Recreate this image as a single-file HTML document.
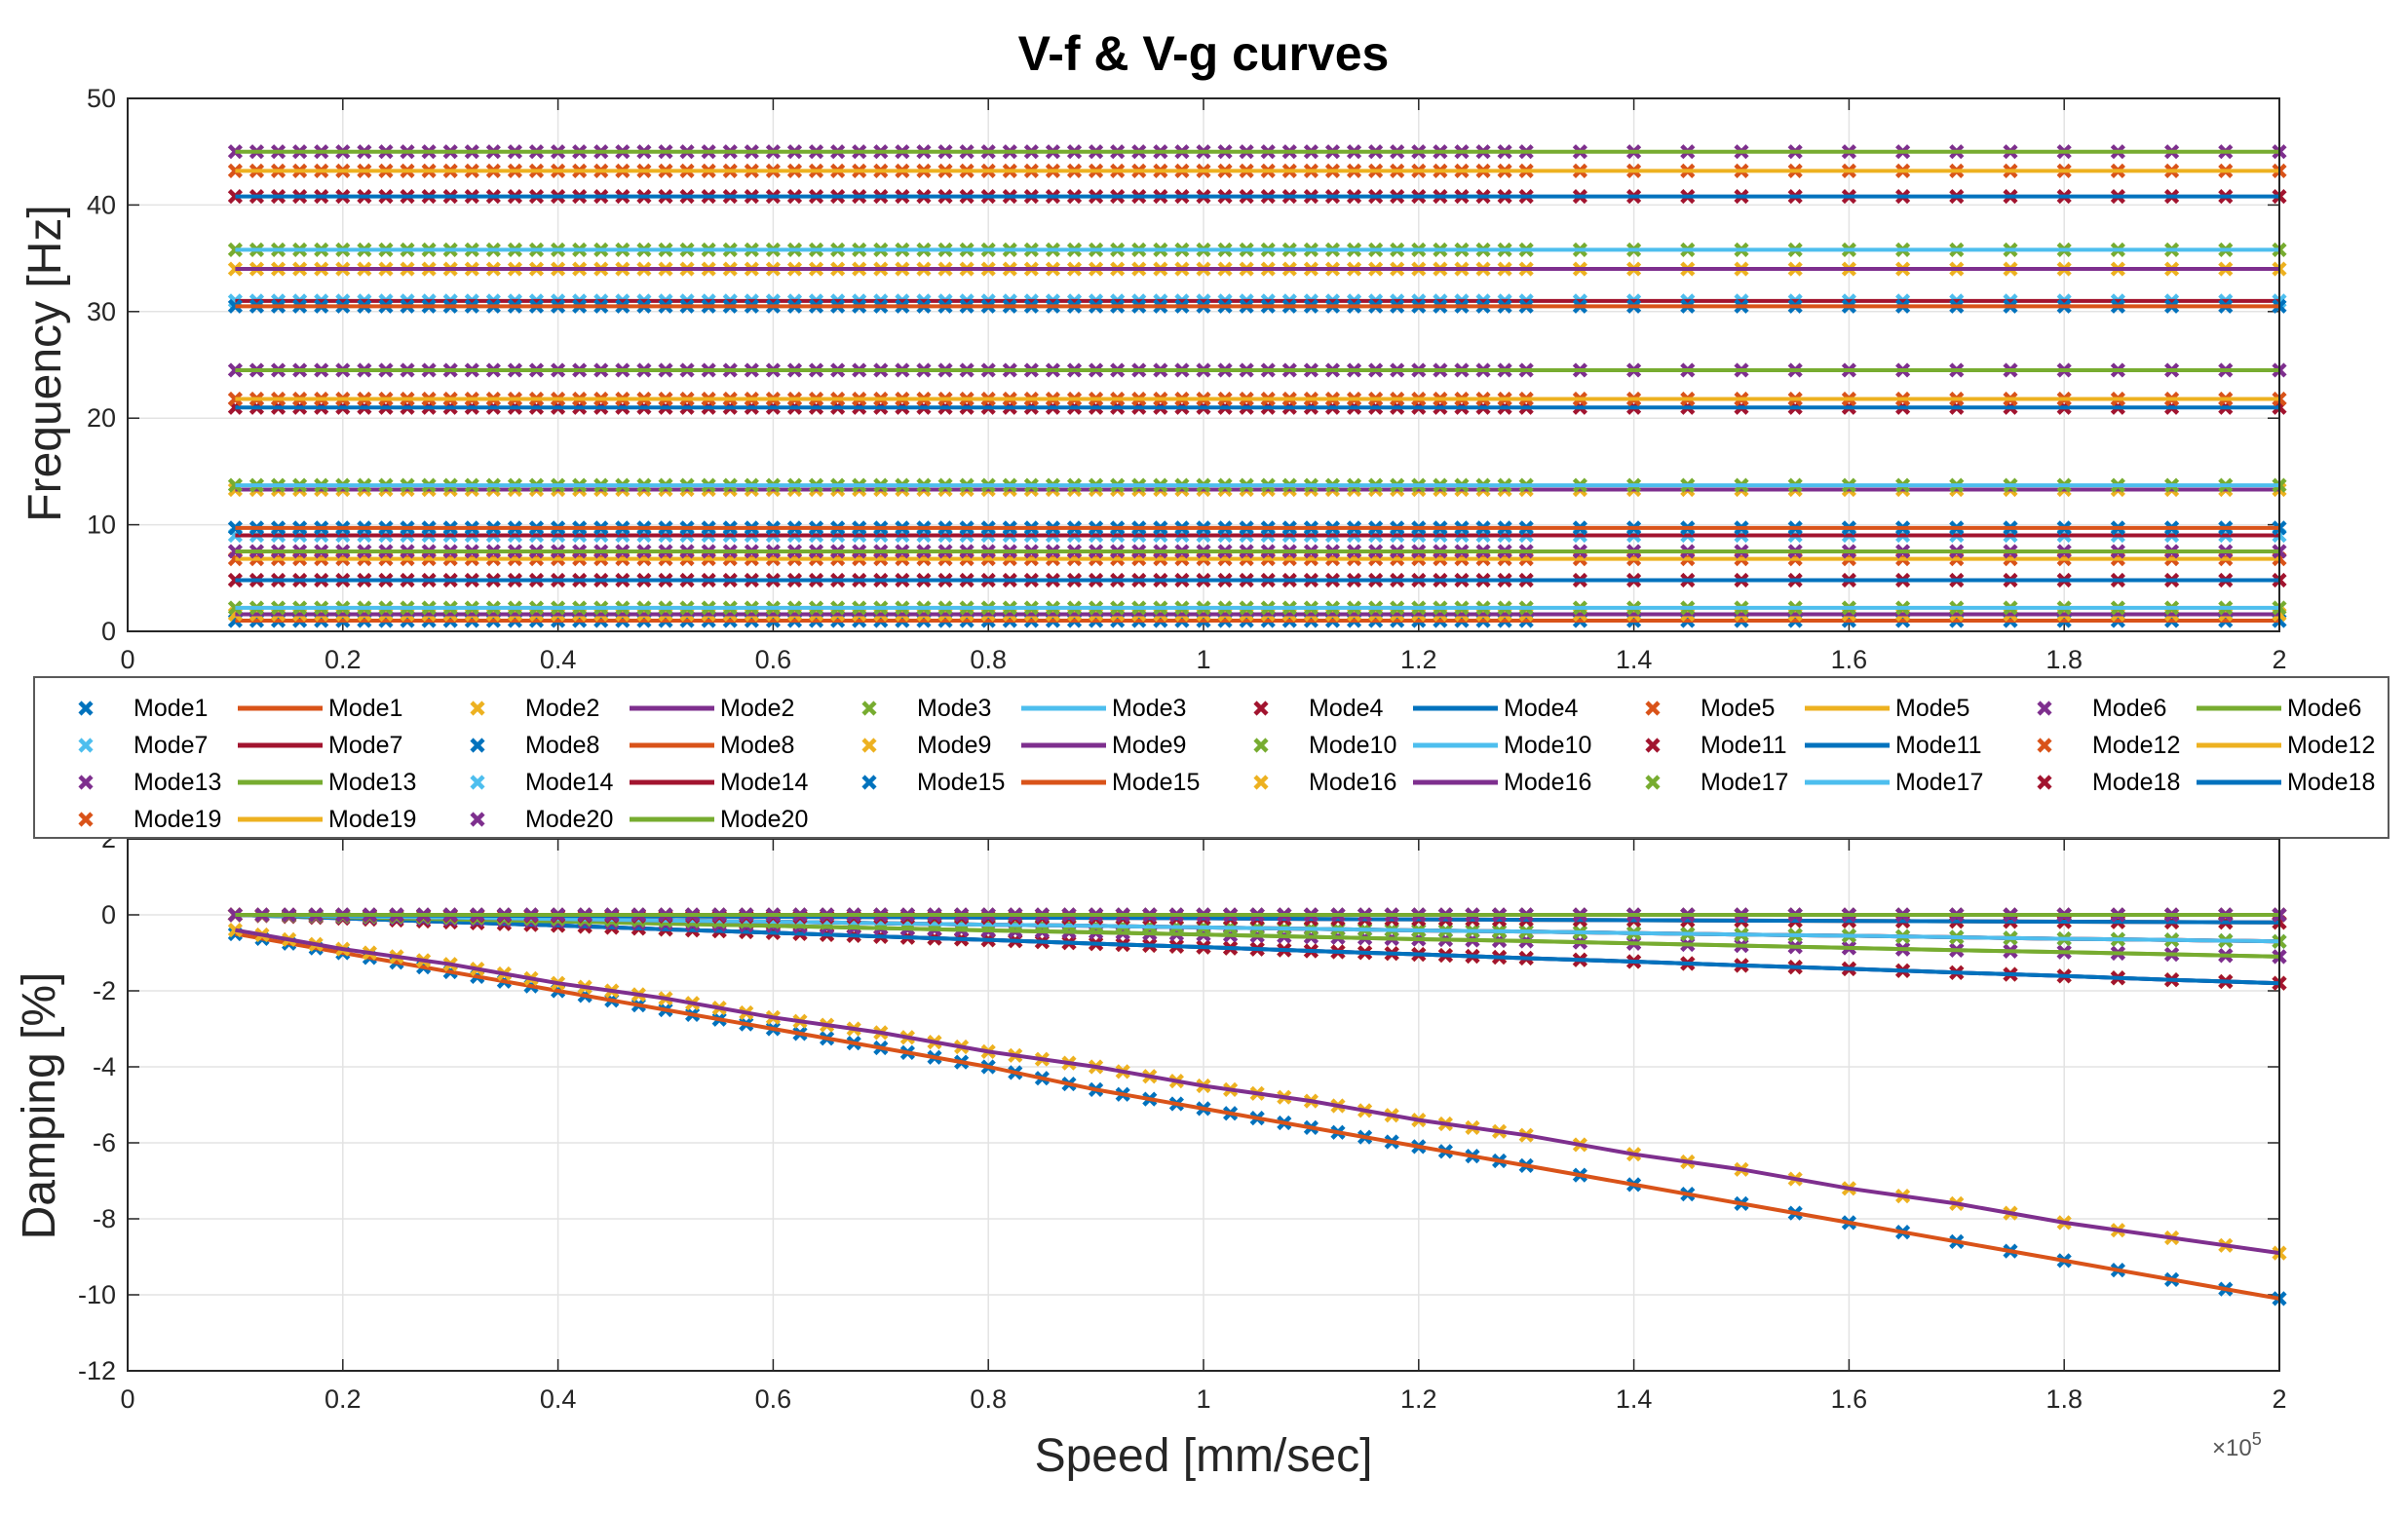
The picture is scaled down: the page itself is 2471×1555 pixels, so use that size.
<!DOCTYPE html>
<html><head><meta charset="utf-8"><style>
body{margin:0;background:#fff;}
svg{display:block;font-family:"Liberation Sans",sans-serif;}
</style></head><body>
<svg id="chart" width="2471" height="1555" viewBox="0 0 2471 1555">
<rect x="0" y="0" width="2471" height="1555" fill="#fff"/>
<text x="1235" y="72" text-anchor="middle" font-size="50" font-weight="bold" fill="#000">V-f &amp; V-g curves</text>
<g id="topG"></g>
<g id="botG"></g>
<g id="legend"></g>
<text x="1235" y="1510" text-anchor="middle" font-size="48" fill="#262626">Speed [mm/sec]</text>
<text x="2270" y="1494" font-size="24" fill="#555">×10<tspan dy="-11" font-size="18">5</tspan></text>
<text transform="translate(62,373) rotate(-90)" text-anchor="middle" font-size="48" fill="#262626">Frequency [Hz]</text>
<text transform="translate(56,1135) rotate(-90)" text-anchor="middle" font-size="48" fill="#262626">Damping [%]</text>
</svg>
<script>
const modes=["Mode1","Mode2","Mode3","Mode4","Mode5","Mode6","Mode7","Mode8","Mode9","Mode10","Mode11","Mode12","Mode13","Mode14","Mode15","Mode16","Mode17","Mode18","Mode19","Mode20"];
const freqValues=[1.0,1.6,2.2,4.8,6.8,7.5,9.0,9.7,13.3,13.7,21.0,21.8,24.5,31.0,30.5,34.0,35.8,40.8,43.2,45.0];
const dampSpeed=[0.1,0.2,0.3,0.4,0.5,0.6,0.7,0.8,0.9,1.0,1.1,1.2,1.3,1.4,1.5,1.6,1.7,1.8,1.9,2.0];
const dMode1=[-0.5,-1.0,-1.5,-2.0,-2.5,-3.0,-3.5,-4.0,-4.6,-5.1,-5.6,-6.1,-6.6,-7.1,-7.6,-8.1,-8.6,-9.1,-9.6,-10.1];
const dMode2=[-0.4,-0.9,-1.3,-1.8,-2.2,-2.7,-3.1,-3.6,-4.0,-4.5,-4.9,-5.4,-5.8,-6.3,-6.7,-7.2,-7.6,-8.1,-8.5,-8.9];
const dLarge=[0,-0.09,-0.19,-0.28,-0.38,-0.47,-0.57,-0.66,-0.76,-0.85,-0.95,-1.04,-1.14,-1.23,-1.33,-1.42,-1.52,-1.61,-1.71,-1.8];
const dMid=[0,-0.06,-0.12,-0.17,-0.23,-0.29,-0.35,-0.41,-0.46,-0.52,-0.58,-0.64,-0.69,-0.75,-0.81,-0.87,-0.93,-0.98,-1.04,-1.1];
const dSmall=[0,-0.04,-0.07,-0.11,-0.15,-0.18,-0.22,-0.26,-0.29,-0.33,-0.37,-0.41,-0.44,-0.48,-0.52,-0.55,-0.59,-0.63,-0.66,-0.7];
const dTiny=[0,-0.01,-0.02,-0.03,-0.04,-0.05,-0.06,-0.07,-0.08,-0.09,-0.11,-0.12,-0.13,-0.14,-0.15,-0.16,-0.17,-0.18,-0.19,-0.2];
const dZero=[0,0,0,0,0,0,0,0,0,0,0,0,0,0,0,0,0,0,0,0];
const dampValues=[dMode1,dMode2,dZero,dLarge,dTiny,dMid,dSmall,dZero,dLarge,dSmall,dLarge,dZero,dMid,dSmall,dZero,dTiny,dSmall,dTiny,dZero,dZero];
const xTicks=[0,0.2,0.4,0.6,0.8,1,1.2,1.4,1.6,1.8,2];
const fTicks=[0,10,20,30,40,50];
const dTicks=[-12,-10,-8,-6,-4,-2,0,2];
const markerColors=["#0072BD","#EDB120","#77AC30","#A2142F","#D95319","#7E2F8E","#4DBEEE"];
const lineColors=["#D95319","#7E2F8E","#4DBEEE","#0072BD","#EDB120","#77AC30","#A2142F"];
const speedGrid=[];
for(let i=0;i<=60;i++)speedGrid.push(+(0.1+i*0.02).toFixed(2));
for(let i=1;i<=14;i++)speedGrid.push(+(1.3+i*0.05).toFixed(2));

const NS="http://www.w3.org/2000/svg";
const X0=131,X1=2339;
const sx=v=>X0+(v/2)*(X1-X0);
const fy=v=>648-(v/50)*(648-101);
const dy=v=>939-(v/12)*(1407-939);
function mk(tag,attrs,parent){const e=document.createElementNS(NS,tag);for(const k in attrs)e.setAttribute(k,attrs[k]);parent.appendChild(e);return e;}
function cross(g,x,y,c){
  const p=mk('path',{d:`M${x-6},${y-6}L${x+6},${y+6}M${x-6},${y+6}L${x+6},${y-6}`,stroke:c,'stroke-width':4.5,fill:'none'},g);
  
  
}
function axes(g,yTop,yBot,ticks,yf,nameP){
  mk('rect',{x:X0,y:yTop,width:X1-X0,height:yBot-yTop,fill:'#fff'},g);
  xTicks.forEach(t=>{
    const l=mk('line',{x1:sx(t),x2:sx(t),y1:yTop,y2:yBot,stroke:'#e3e3e3','stroke-width':1.5},g);
    
    
    mk('line',{x1:sx(t),x2:sx(t),y1:yBot,y2:yBot-12,stroke:'#262626','stroke-width':1.5},g);
    mk('line',{x1:sx(t),x2:sx(t),y1:yTop,y2:yTop+12,stroke:'#262626','stroke-width':1.5},g);
    const tx=mk('text',{x:sx(t),y:yBot+38,'text-anchor':'middle','font-size':27,fill:'#262626'},g);
    tx.textContent=String(t);
    
    
  });
  ticks.forEach(t=>{
    const y=yf(t);
    const l=mk('line',{x1:X0,x2:X1,y1:y,y2:y,stroke:'#e3e3e3','stroke-width':1.5},g);
    
    
    mk('line',{x1:X0,x2:X0+12,y1:y,y2:y,stroke:'#262626','stroke-width':1.5},g);
    mk('line',{x1:X1,x2:X1-12,y1:y,y2:y,stroke:'#262626','stroke-width':1.5},g);
    const tx=mk('text',{x:X0-12,y:y+9,'text-anchor':'end','font-size':27,fill:'#262626'},g);
    tx.textContent=String(t);
    
    
  });
}
const topG=document.getElementById('topG');
axes(topG,101,648,fTicks,fy,'frequency');
modes.forEach((m,i)=>{
  const g=mk('g',{},topG);
  
  
  const y=fy(freqValues[i]);
  speedGrid.forEach(s=>cross(g,sx(s),y,markerColors[i%7]));
  const l=mk('line',{x1:sx(speedGrid[0]),x2:sx(speedGrid[speedGrid.length-1]),y1:y,y2:y,stroke:lineColors[i%7],'stroke-width':4},g);
  
  
});
mk('rect',{x:X0,y:101,width:X1-X0,height:547,fill:'none',stroke:'#262626','stroke-width':2},topG);

const botG=document.getElementById('botG');
axes(botG,861,1407,dTicks,dy,'damping');
modes.forEach((m,i)=>{
  const g=mk('g',{},botG);
  
  
  const vals=dampValues[i];
  dampSpeed.forEach((s,j)=>{
    cross(g,sx(s),dy(vals[j]),markerColors[i%7]);
    if(j<dampSpeed.length-1){
      const n=s<1.3?4:2;
      for(let k=1;k<n;k++){const f=k/n;cross(g,sx(s+(dampSpeed[j+1]-s)*f),dy(vals[j]+(vals[j+1]-vals[j])*f),markerColors[i%7]);}
    }
  });
  const pts=dampSpeed.map((s,j)=>sx(s)+','+dy(vals[j])).join(' ');
  const l=mk('polyline',{points:pts,fill:'none',stroke:lineColors[i%7],'stroke-width':4},g);
  
  
});
mk('rect',{x:X0,y:861,width:X1-X0,height:546,fill:'none',stroke:'#262626','stroke-width':2},botG);

const leg=document.getElementById('legend');
const box=mk('rect',{x:35,y:695,width:2416,height:165,fill:'#fff',stroke:'#5a5a5a','stroke-width':2},leg);


modes.forEach((m,i)=>{
  const col=i%6,row=Math.floor(i/6);
  const ox=col*402,y=727+row*38;
  const g=mk('g',{},leg);
  
  
  cross(g,88+ox,y,markerColors[i%7]);
  const t1=mk('text',{x:137+ox,y:y+8,'font-size':25,fill:'#000'},g);t1.textContent=m;
  mk('line',{x1:244+ox,x2:331+ox,y1:y,y2:y,stroke:lineColors[i%7],'stroke-width':5},g);
  const t2=mk('text',{x:337+ox,y:y+8,'font-size':25,fill:'#000'},g);t2.textContent=m;
});
</script>
</body></html>
